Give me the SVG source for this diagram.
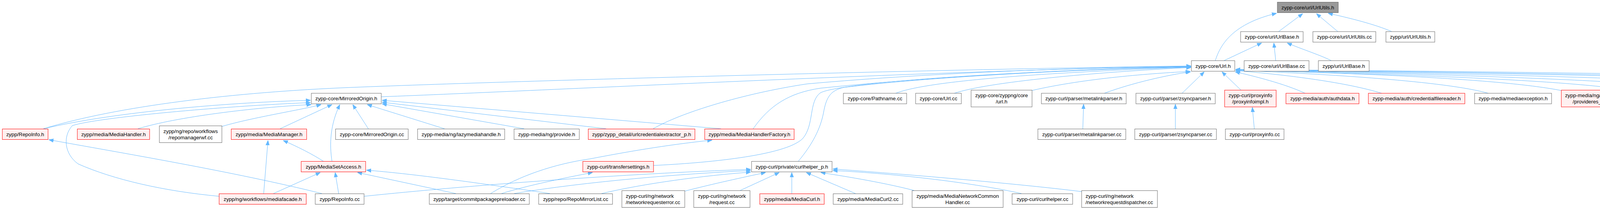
<svg xmlns="http://www.w3.org/2000/svg" width="5270" height="533" viewBox="0 0 5270 533">
<style>
rect{fill:#ffffff;stroke:#666666;stroke-width:1}
.r rect{fill:#fff0f0;stroke:#ff0000}
.root rect{fill:#999999;stroke:#666666}
text{font-family:"Liberation Sans",Arial,sans-serif;font-size:13.33px;fill:#000000;text-anchor:middle}
text.l{text-anchor:start}
#edges path{fill:none;stroke:#63b8ff;stroke-width:1;marker-end:url(#a)}
</style>
<defs>
<marker id="a" markerUnits="userSpaceOnUse" markerWidth="12" markerHeight="10" viewBox="0 0 12 10" refX="12" refY="5" orient="auto"><path d="M0,0.5 L12,5 L0,9.5 z" fill="#63b8ff" stroke="#63b8ff"/></marker>
</defs>
<rect x="0" y="0" width="5270" height="533" style="fill:#ffffff;stroke:none"/>
<g id="edges">
<path d="M3111,156 C3125,110 3160,60 3268,34"/>
<path d="M3273,81 L3335,35"/>
<path d="M3425,81 L3370,35"/>
<path d="M3563,81 C3520,62 3450,45 3400,34"/>
<path d="M3132,156 L3230,110"/>
<path d="M3266,156 L3261,110"/>
<path d="M3409,156 C3390,145 3330,125 3295,110"/>
<path d="M111,330 C300,272 600,236 900,224 C1400,204 2500,176 3049,169"/>
<path d="M976,248 C1400,232 2400,180 3049,170"/>
<path d="M1672,330 C1740,290 1900,240 2066,215 C2400,185 2800,172 3049,170"/>
<path d="M1928,330 C1970,270 2020,238 2100,226 C2400,195 2800,175 3049,171"/>
<path d="M1673,424 C1800,418 2010,400 2055,355 C2085,320 2070,260 2100,238 C2140,215 2500,185 3049,171"/>
<path d="M2043,414 C2080,370 2100,330 2108,290 C2115,250 2125,232 2160,224 C2400,195 2800,176 3049,172"/>
<path d="M2293,239 C2380,205 2700,185 3049,172"/>
<path d="M2443,239 C2530,210 2800,185 3049,173"/>
<path d="M2641,232 C2780,200 2950,188 3047,183"/>
<path d="M2827,239 C2900,212 2990,192 3048,184"/>
<path d="M3026,239 L3083,184"/>
<path d="M3177,231 L3128,184"/>
<path d="M3341,239 C3290,215 3210,195 3162,184"/>
<path d="M3537,239 C3450,212 3300,192 3163,181"/>
<path d="M3810,239 C3700,208 3400,190 3163,180"/>
<path d="M3997,232 C3850,203 3500,188 3163,180"/>
<path d="M4203,239 C4100,208 3600,190 3163,180"/>
<path d="M4410,239 C4300,208 3700,190 3163,179"/>
<path d="M4654,239 C4500,203 3800,190 3163,179"/>
<path d="M4837,232 C4650,200 3900,188 3163,179"/>
<path d="M5039,239 C4850,198 4000,188 3163,178"/>
<path d="M5196,239 C5100,200 4200,186 3163,178"/>
<path d="M111,330 C300,285 600,262 795,257"/>
<path d="M561,503 C420,490 290,460 200,420 C165,395 160,350 185,322 C250,300 600,270 795,263"/>
<path d="M353,330 C450,300 650,275 797,268"/>
<path d="M568,324 C650,300 770,282 822,268"/>
<path d="M717,330 L850,268"/>
<path d="M850,414 C843,370 845,320 870,268"/>
<path d="M943,330 L903,268"/>
<path d="M1138,330 L940,268"/>
<path d="M1342,330 L978,266"/>
<path d="M1552,330 L978,262"/>
<path d="M1846,330 L978,257"/>
<path d="M675,496 L686,360"/>
<path d="M829,414 C800,395 760,375 725,360"/>
<path d="M824,496 C600,440 300,390 125,358"/>
<path d="M700,496 L820,442"/>
<path d="M867,496 L858,442"/>
<path d="M1167,496 L915,442"/>
<path d="M1408,496 C1200,465 1050,445 938,436"/>
<path d="M1256,496 C1330,450 1420,420 1511,407 C1600,390 1700,372 1823,359"/>
<path d="M1284,496 C1350,475 1450,455 1517,442"/>
<path d="M932,503 C1200,475 1600,445 1922,434"/>
<path d="M1316,496 C1500,465 1750,445 1922,437"/>
<path d="M1540,496 C1650,470 1800,450 1922,441"/>
<path d="M1752,490 C1830,470 1900,455 1960,442"/>
<path d="M1895,488 L1995,442"/>
<path d="M2027,496 L2027,442"/>
<path d="M2190,496 L2064,442"/>
<path d="M2340,488 C2250,465 2150,450 2101,442"/>
<path d="M2615,496 C2500,470 2300,445 2132,437"/>
<path d="M2769,491 C2600,470 2300,445 2132,433"/>
<path d="M2772,330 L2774,267"/>
<path d="M3009,330 L3009,267"/>
<path d="M3211,330 L3206,275"/>
</g>
<g id="n0" class="root"><rect x="3270" y="5.5" width="156" height="27"/><text x="3348" y="23.5">zypp-core/url/UrlUtils.h</text></g>
<g id="n1"><rect x="3176" y="81" width="160" height="27"/><text x="3256" y="99">zypp-core/url/UrlBase.h</text></g>
<g id="n2"><rect x="3361" y="81" width="161" height="27"/><text x="3441.5" y="99">zypp-core/url/UrlUtils.cc</text></g>
<g id="n3"><rect x="3548" y="81" width="125" height="27"/><text x="3610.5" y="99">zypp/url/UrlUtils.h</text></g>
<g id="n4"><rect x="3050" y="155.5" width="111" height="27"/><text x="3105.5" y="173.5">zypp-core/Url.h</text></g>
<g id="n5"><rect x="3185" y="155.5" width="166" height="27"/><text x="3268" y="173.5">zypp-core/url/UrlBase.cc</text></g>
<g id="n6"><rect x="3375" y="155.5" width="130" height="27"/><text x="3440" y="173.5">zypp/url/UrlBase.h</text></g>
<g id="n7"><rect x="797" y="239" width="179" height="27"/><text x="886.5" y="257">zypp-core/MirroredOrigin.h</text></g>
<g id="n8"><rect x="2159" y="239" width="162" height="27"/><text x="2240" y="257">zypp-core/Pathname.cc</text></g>
<g id="n9"><rect x="2344" y="239" width="117" height="27"/><text x="2402.5" y="257">zypp-core/Url.cc</text></g>
<g id="n10"><rect x="2486" y="231" width="156" height="43"/><text x="2564" y="249">zypp-core/zyppng/core</text><text x="2564" y="265">/url.h</text></g>
<g id="n11"><rect x="2666" y="239" width="217" height="27"/><text x="2774.5" y="257">zypp-curl/parser/metalinkparser.h</text></g>
<g id="n12"><rect x="2908" y="239" width="203" height="27"/><text x="3009.5" y="257">zypp-curl/parser/zsyncparser.h</text></g>
<g id="n13" class="r"><rect x="3135" y="231" width="132" height="43"/><text x="3201" y="249">zypp-curl/proxyinfo</text><text x="3201" y="265">/proxyinfoimpl.h</text></g>
<g id="n14" class="r"><rect x="3292" y="239" width="187" height="27"/><text x="3385.5" y="257">zypp-media/auth/authdata.h</text></g>
<g id="n15" class="r"><rect x="3503" y="239" width="247" height="27"/><text x="3626.5" y="257">zypp-media/auth/credentialfilereader.h</text></g>
<g id="n16"><rect x="3775" y="239" width="197" height="27"/><text x="3873.5" y="257">zypp-media/mediaexception.h</text></g>
<g id="n17" class="r"><rect x="3997" y="231" width="150" height="43"/><text x="4072" y="249">zypp-media/ng/private</text><text x="4072" y="265">/provideres_p.h</text></g>
<g id="n18"><rect x="4171" y="239" width="173" height="27"/><text x="4257.5" y="257">zypp-media/ng/provide.cc</text></g>
<g id="n19"><rect x="4368" y="239" width="228" height="27"/><text x="4482" y="257">zypp-media/ng/providemessage.cc</text></g>
<g id="n20" class="r"><rect x="4619" y="239" width="195" height="27"/><text x="4716.5" y="257">zypp-media/ng/providespec.h</text></g>
<g id="n21"><rect x="4837" y="231" width="152" height="43"/><text x="4913" y="249">zypp-media/ng/worker</text><text x="4913" y="265">/provideworker.cc</text></g>
<g id="n22" class="r"><rect x="5014" y="239" width="145" height="27"/><text x="5086.5" y="257">zypp-tui/output/Out.h</text></g>
<g id="n23" class="r"><rect x="5183" y="239" width="82" height="27"/><text x="5224" y="257">zypp/Url.h</text></g>
<g id="n24" class="r"><rect x="6" y="330.5" width="117" height="27"/><text x="64.5" y="348.5">zypp/RepoInfo.h</text></g>
<g id="n25" class="r"><rect x="198" y="330.5" width="185" height="27"/><text x="290.5" y="348.5">zypp/media/MediaHandler.h</text></g>
<g id="n26"><rect x="408" y="322.5" width="160" height="43"/><text x="488" y="340.5">zypp/ng/repo/workflows</text><text x="488" y="356.5">/repomanagerwf.cc</text></g>
<g id="n27" class="r"><rect x="592" y="330.5" width="193" height="27"/><text x="688.5" y="348.5">zypp/media/MediaManager.h</text></g>
<g id="n28"><rect x="859" y="330.5" width="186" height="27"/><text x="952" y="348.5">zypp-core/MirroredOrigin.cc</text></g>
<g id="n29"><rect x="1069" y="330.5" width="223" height="27"/><text x="1180.5" y="348.5">zypp-media/ng/lazymediahandle.h</text></g>
<g id="n30"><rect x="1316" y="330.5" width="167" height="27"/><text x="1399.5" y="348.5">zypp-media/ng/provide.h</text></g>
<g id="n31" class="r"><rect x="1506" y="330.5" width="273" height="27"/><text x="1642.5" y="348.5">zypp/zypp_detail/urlcredentialextractor_p.h</text></g>
<g id="n32" class="r"><rect x="1804" y="330.5" width="229" height="27"/><text x="1918.5" y="348.5">zypp/media/MediaHandlerFactory.h</text></g>
<g id="n33"><rect x="2657" y="330.5" width="225" height="27"/><text x="2769.5" y="348.5">zypp-curl/parser/metalinkparser.cc</text></g>
<g id="n34"><rect x="2905" y="330.5" width="209" height="27"/><text x="3009.5" y="348.5">zypp-curl/parser/zsyncparser.cc</text></g>
<g id="n35"><rect x="3137" y="330.5" width="150" height="27"/><text x="3212" y="348.5">zypp-curl/proxyinfo.cc</text></g>
<g id="n36" class="r"><rect x="771" y="413.5" width="165" height="27"/><text x="853.5" y="431.5">zypp/MediaSetAccess.h</text></g>
<g id="n37" class="r"><rect x="1492" y="413.5" width="181" height="27"/><text x="1582.5" y="431.5">zypp-curl/transfersettings.h</text></g>
<g id="n38"><rect x="1924" y="413.5" width="206" height="27"/><text x="2027" y="431.5">zypp-curl/private/curlhelper_p.h</text></g>
<g id="n39" class="r"><rect x="561" y="496.5" width="223" height="27"/><text x="672.5" y="514.5">zypp/ng/workflows/mediafacade.h</text></g>
<g id="n40"><rect x="807" y="496.5" width="125" height="27"/><text x="869.5" y="514.5">zypp/RepoInfo.cc</text></g>
<g id="n41"><rect x="1099" y="496.5" width="256" height="27"/><text x="1227" y="514.5">zypp/target/commitpackagepreloader.cc</text></g>
<g id="n42"><rect x="1379" y="496.5" width="189" height="27"/><text x="1473.5" y="514.5">zypp/repo/RepoMirrorList.cc</text></g>
<g id="n43"><rect x="1592" y="488.5" width="161" height="43"/><text class="l" x="1602" y="506.5">zypp-curl/ng/network</text><text class="l" x="1602" y="522.5">/networkrequesterror.cc</text></g>
<g id="n44"><rect x="1776" y="488.5" width="144" height="43"/><text x="1848" y="506.5">zypp-curl/ng/network</text><text x="1848" y="522.5">/request.cc</text></g>
<g id="n45" class="r"><rect x="1945" y="496.5" width="165" height="27"/><text x="2027.5" y="514.5">zypp/media/MediaCurl.h</text></g>
<g id="n46"><rect x="2133" y="496.5" width="178" height="27"/><text x="2222" y="514.5">zypp/media/MediaCurl2.cc</text></g>
<g id="n47"><rect x="2335" y="488.5" width="233" height="43"/><text x="2451.5" y="506.5">zypp/media/MediaNetworkCommon</text><text x="2451.5" y="522.5">Handler.cc</text></g>
<g id="n48"><rect x="2591" y="496.5" width="155" height="27"/><text x="2668.5" y="514.5">zypp-curl/curlhelper.cc</text></g>
<g id="n49"><rect x="2769" y="488.5" width="194" height="43"/><text class="l" x="2779" y="506.5">zypp-curl/ng/network</text><text class="l" x="2779" y="522.5">/networkrequestdispatcher.cc</text></g>
</svg>
